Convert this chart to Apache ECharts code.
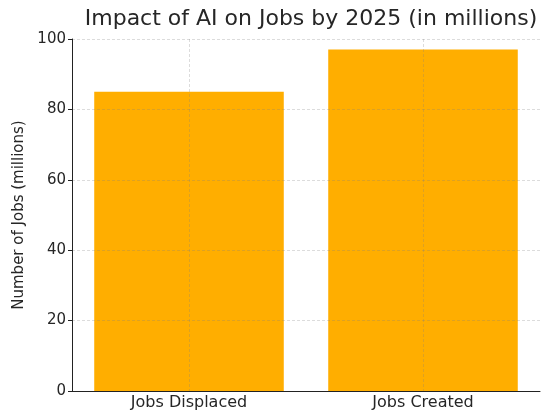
<!DOCTYPE html>
<html>
<head>
<meta charset="utf-8">
<script src="https://cdn.jsdelivr.net/npm/echarts@6/dist/echarts.min.js"></script>
<style>
  html, body { margin: 0; padding: 0; background: #fff; }
  #chart { width: 542px; height: 412px; }
</style>
</head>
<body>
<div id="chart"></div>
<script>
// data
var categories = ['Jobs Displaced', 'Jobs Created'];
var jobs = [85, 97];
var yTicks = [0, 20, 40, 60, 80, 100];

var font = 'DejaVu Sans';
var gridColor = 'rgba(128,128,128,0.35)';
var myChart = echarts.init(document.getElementById('chart'));

var option = {
    animation: false,
    backgroundColor: '#fff',
    title: {
        text: 'Impact of AI on Jobs by 2025 (in millions)',
        left: 306,
        textAlign: 'center',
        top: 3,
        textStyle: {fontFamily: font, fontSize: 22, fontWeight: 'normal', color: '#262626'}
    },
    grid: {left: 72, right: 2, top: 39, bottom: 21},
    xAxis: {
        type: 'category',
        z: 3,
        data: categories,
        axisLine: {lineStyle: {color: '#222', width: 1}},
        axisTick: {alignWithLabel: true, length: 4, lineStyle: {color: '#222'}},
        axisLabel: {fontFamily: font, fontSize: 16, color: '#262626', margin: 4},
        splitLine: {show: true, alignWithLabel: true, lineStyle: {color: gridColor, type: [3, 2], width: 0.8}}
    },
    yAxis: {
        type: 'value',
        z: 3,
        min: yTicks[0],
        max: yTicks[yTicks.length - 1],
        interval: 20,
        name: 'Number of Jobs (millions)',
        nameLocation: 'middle',
        nameGap: 45,
        nameTextStyle: {fontFamily: font, fontSize: 15, color: '#262626'},
        axisLine: {show: true, lineStyle: {color: '#222', width: 1}},
        axisTick: {show: true, length: 4, lineStyle: {color: '#222'}},
        axisLabel: {fontFamily: font, fontSize: 15, color: '#262626', margin: 6},
        splitLine: {show: true, lineStyle: {color: gridColor, type: [3, 2], width: 0.8}}
    },
    series: [{
        type: 'bar',
        data: jobs,
        barWidth: '81%',
        itemStyle: {color: '#FFAE00'}
    }]
};

myChart.setOption(option);
</script>
</body>
</html>
